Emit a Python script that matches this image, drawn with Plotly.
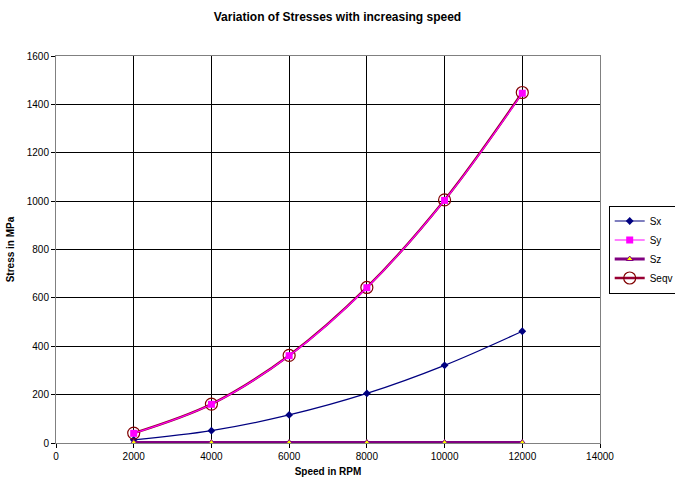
import plotly.graph_objects as go

speed = [2000, 4000, 6000, 8000, 10000, 12000]
sx = [13, 51, 116, 205, 321, 462]
sy = [40, 160, 361, 642, 1003, 1446]
sz = [2, 2, 2, 2, 2, 2]
seqv = [41, 161, 362, 643, 1005, 1449]

fig = go.Figure()
fig.add_trace(go.Scatter(x=speed, y=sx, name="Sx", mode="lines+markers", line=dict(color="#000080", width=1.2, shape="spline"),
                         marker=dict(symbol="diamond", size=6, color="#000080"), legendrank=1))
fig.add_trace(go.Scatter(x=speed, y=seqv, name="Seqv", mode="lines+markers", line=dict(color="#990033", width=2.4, shape="spline"),
                         marker=dict(symbol="circle-open", size=12, color="#800000", line=dict(width=1.2)), legendrank=4))
fig.add_trace(go.Scatter(x=speed, y=sy, name="Sy", mode="lines+markers", line=dict(color="#FF00FF", width=1.2, shape="spline"),
                         marker=dict(symbol="square", size=7, color="#FF00FF"), legendrank=2))
fig.add_trace(go.Scatter(x=speed, y=sz, name="Sz", mode="lines+markers", line=dict(color="#800080", width=3),
                         marker=dict(symbol="triangle-up", size=6, color="#FFFF00", line=dict(color="#800080", width=1)), legendrank=3))

fig.update_layout(
    width=675, height=482,
    margin=dict(l=56, r=75, t=56, b=39, autoexpand=False),
    paper_bgcolor="white", plot_bgcolor="white",
    font=dict(family="Liberation Sans, Arial", size=10, color="black"),
    title=dict(text="<b>Variation of Stresses with increasing speed</b>", x=0.5, xanchor="center",
               y=0.965, yanchor="middle", font=dict(size=12)),
    showlegend=True,
    legend=dict(x=1.016, y=0.5, xanchor="left", yanchor="middle", bordercolor="black", borderwidth=1,
                bgcolor="white", font=dict(size=10), tracegroupgap=0, itemwidth=30),
    xaxis=dict(range=[0, 14000], tickvals=[0, 2000, 4000, 6000, 8000, 10000, 12000, 14000], tickformat="d",
               showgrid=True, gridcolor="black", gridwidth=1, zeroline=False,
               showline=True, linecolor="#808080", mirror=True, ticks="outside", ticklen=4, tickcolor="black",
               title=dict(text="<b>Speed in RPM</b>", font=dict(size=10), standoff=6)),
    yaxis=dict(range=[0, 1600], dtick=200, showgrid=True, gridcolor="black", gridwidth=1, zeroline=False,
               showline=True, linecolor="#808080", mirror=True, ticks="outside", ticklen=4, tickcolor="black",
               title=dict(text="<b>Stress in MPa</b>", font=dict(size=10), standoff=10)),
)

fig.write_html("out.html")
